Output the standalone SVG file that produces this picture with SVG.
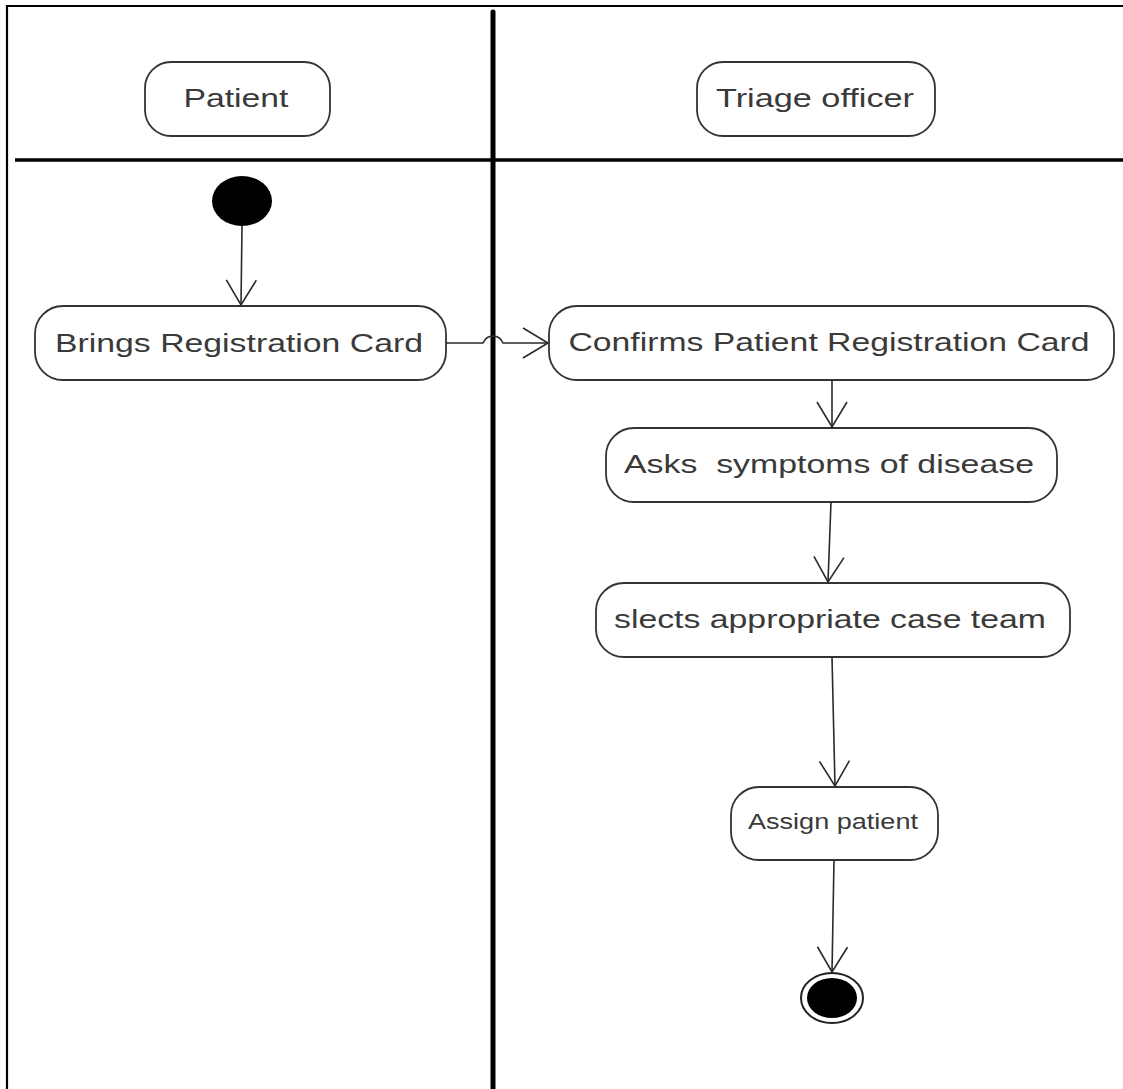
<svg xmlns="http://www.w3.org/2000/svg" width="1123" height="1089" viewBox="0 0 1123 1089">
  <style>
    .box { fill: #ffffff; stroke: #333333; stroke-width: 1.8; }
    .lbl { font-family: "Liberation Sans", Arial, sans-serif; font-size: 26px; fill: #3a3a3a; text-anchor: middle; }
    .edge { fill: none; stroke: #2a2a2a; stroke-width: 1.6; }
    .frame { fill: none; stroke: #000000; }
  </style>
  <defs>
    <marker id="open" viewBox="0 0 28 32" markerWidth="28" markerHeight="32" refX="26" refY="16" orient="auto" markerUnits="userSpaceOnUse">
      <path d="M1 1 L26 16 L1 31" fill="none" stroke="#2a2a2a" stroke-width="1.6"/>
    </marker>
  </defs>
  <rect x="0" y="0" width="1123" height="1089" fill="#ffffff"/>
  <g id="frame">
    <path class="frame" d="M7 1089 V6 H1123" stroke-width="2.2"/>
    <line class="frame" x1="15" y1="160" x2="1123" y2="160" stroke-width="3.5"/>
    <line class="frame" x1="493" y1="12" x2="493" y2="1089" stroke-width="5" stroke-linecap="round"/>
  </g>
  <g id="lane-patient">
    <rect class="box" x="145" y="62" width="185" height="74" rx="26" ry="26"/>
    <text class="lbl" x="236" y="107" textLength="105" lengthAdjust="spacingAndGlyphs">Patient</text>
  </g>
  <g id="lane-triage">
    <rect class="box" x="697" y="62" width="238" height="74" rx="26" ry="26"/>
    <text class="lbl" x="815" y="107" textLength="198" lengthAdjust="spacingAndGlyphs">Triage officer</text>
  </g>
  <g id="start">
    <ellipse cx="242" cy="201" rx="30" ry="25" fill="#000000"/>
  </g>
  <g id="brings">
    <rect class="box" x="35" y="306" width="411" height="74" rx="28" ry="28"/>
    <text class="lbl" x="239" y="352" textLength="368" lengthAdjust="spacingAndGlyphs">Brings Registration Card</text>
  </g>
  <g id="confirms">
    <rect class="box" x="549" y="306" width="565" height="74" rx="28" ry="28"/>
    <text class="lbl" x="829" y="351" textLength="521" lengthAdjust="spacingAndGlyphs">Confirms Patient Registration Card</text>
  </g>
  <g id="asks">
    <rect class="box" x="606" y="428" width="451" height="74" rx="28" ry="28"/>
    <text class="lbl" x="829" y="473" textLength="410" lengthAdjust="spacingAndGlyphs" xml:space="preserve">Asks  symptoms of disease</text>
  </g>
  <g id="selects">
    <rect class="box" x="596" y="583" width="474" height="74" rx="28" ry="28"/>
    <text class="lbl" x="830" y="628" textLength="432" lengthAdjust="spacingAndGlyphs">slects appropriate case team</text>
  </g>
  <g id="assign">
    <rect class="box" x="731" y="787" width="207" height="73" rx="28" ry="28"/>
    <text class="lbl" x="833" y="829" textLength="170" lengthAdjust="spacingAndGlyphs" style="font-size:22px">Assign patient</text>
  </g>
  <g id="end">
    <ellipse cx="832" cy="998" rx="31" ry="25" fill="#ffffff" stroke="#222222" stroke-width="2"/>
    <ellipse cx="832" cy="998" rx="25" ry="20" fill="#000000"/>
  </g>
  <g id="connectors">
    <path class="edge" d="M242 226 L241 305" marker-end="url(#open)"/>
    <path class="edge" d="M446 343 H483 Q486 336 493 336 Q500 336 503 343 H548" marker-end="url(#open)"/>
    <path class="edge" d="M832 380 L832 427" marker-end="url(#open)"/>
    <path class="edge" d="M831 502 L828 582" marker-end="url(#open)"/>
    <path class="edge" d="M832 657 L835 786" marker-end="url(#open)"/>
    <path class="edge" d="M834 860 L832 972" marker-end="url(#open)"/>
  </g>
</svg>
